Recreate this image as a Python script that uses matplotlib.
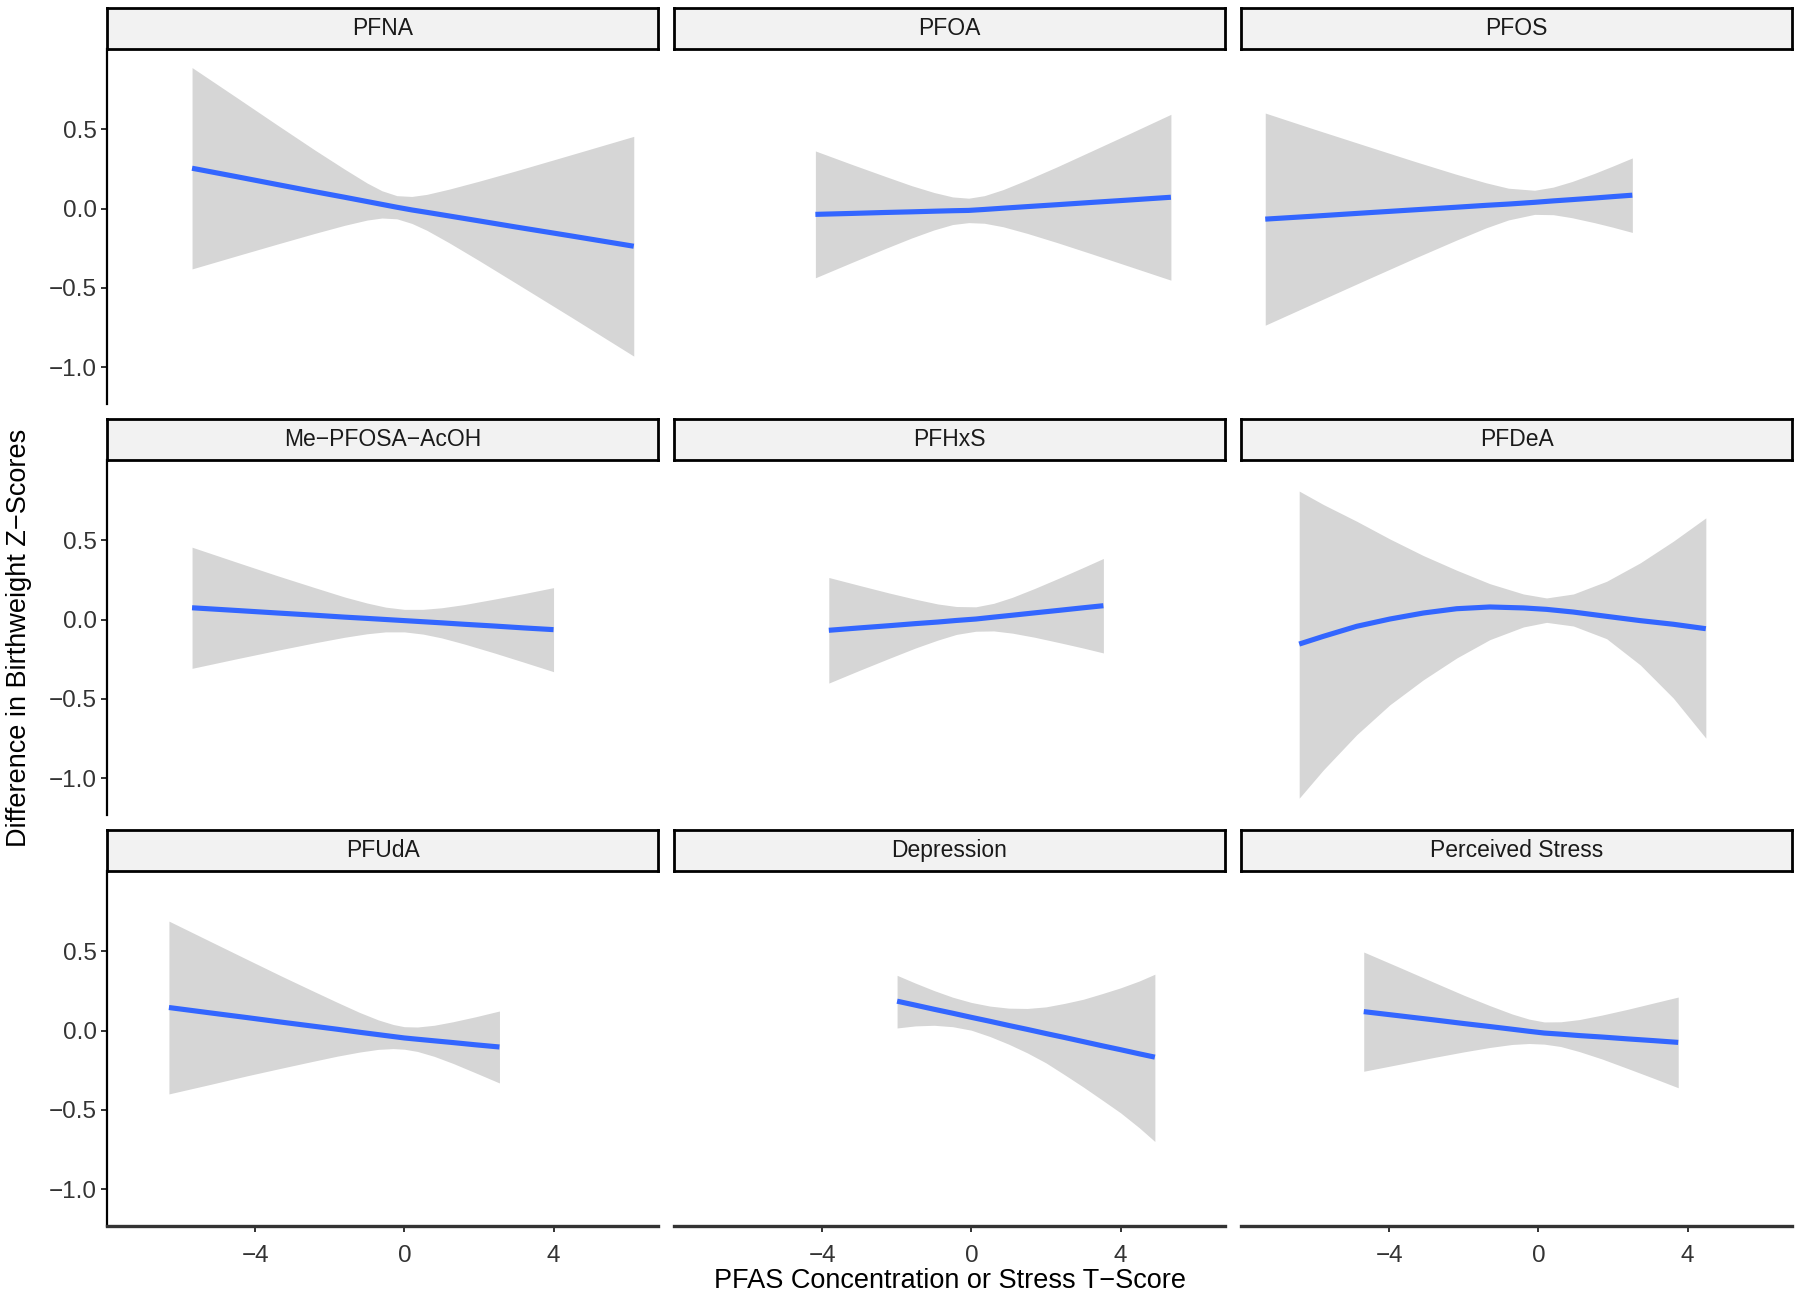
import matplotlib.pyplot as plt
import numpy as np

plt.rcParams["font.family"] = ["Liberation Sans", "DejaVu Sans"]

# facet titles, in reading order
panels = ["PFNA", "PFOA", "PFOS",
          "Me\u2212PFOSA\u2212AcOH", "PFHxS", "PFDeA",
          "PFUdA", "Depression", "Perceived Stress"]

# smooth fit (fit) and half width of the grey band (hw)
x_pfna = [-5.69, -4.5, -3.4, -2.4, -1.6, -1.0, -0.6, -0.2, 0.2, 0.6, 1.2, 2.0, 3.0, 4.5, 6.15]
fit_pfna = [0.255, 0.202, 0.152, 0.107, 0.072, 0.045, 0.027, 0.009, -0.008, -0.023, -0.046, -0.077, -0.116, -0.173, -0.237]
hw_pfna = [0.635, 0.500, 0.375, 0.263, 0.177, 0.117, 0.086, 0.073, 0.085, 0.113, 0.169, 0.250, 0.355, 0.515, 0.693]

x_pfoa = [-4.18, -3.2, -2.3, -1.6, -1.0, -0.5, -0.07, 0.35, 0.85, 1.5, 2.3, 3.2, 4.2, 5.35]
fit_pfoa = [-0.036, -0.030, -0.024, -0.020, -0.016, -0.013, -0.011, -0.005, 0.003, 0.013, 0.025, 0.039, 0.054, 0.072]
hw_pfoa = [0.400, 0.309, 0.227, 0.165, 0.118, 0.087, 0.077, 0.087, 0.117, 0.169, 0.239, 0.322, 0.415, 0.523]

x_pfos = [-7.32, -6.0, -4.6, -3.3, -2.2, -1.4, -0.8, -0.1, 0.4, 0.9, 1.5, 2.0, 2.52]
fit_pfos = [-0.066, -0.047, -0.026, -0.007, 0.009, 0.021, 0.029, 0.040, 0.049, 0.057, 0.067, 0.076, 0.085]
hw_pfos = [0.669, 0.548, 0.421, 0.304, 0.208, 0.142, 0.100, 0.076, 0.087, 0.114, 0.155, 0.193, 0.235]

x_mepfosa = [-5.69, -4.5, -3.4, -2.4, -1.6, -1.0, -0.5, 0.0, 0.5, 1.0, 1.6, 2.4, 3.2, 4.0]
fit_mepfosa = [0.075, 0.058, 0.042, 0.028, 0.016, 0.008, 0.001, -0.006, -0.013, -0.020, -0.029, -0.040, -0.052, -0.063]
hw_mepfosa = [0.382, 0.305, 0.235, 0.174, 0.127, 0.097, 0.078, 0.071, 0.078, 0.095, 0.124, 0.169, 0.216, 0.265]

x_pfhxs = [-3.82, -3.0, -2.2, -1.5, -0.9, -0.4, 0.12, 0.6, 1.1, 1.7, 2.4, 3.0, 3.54]
fit_pfhxs = [-0.067, -0.052, -0.038, -0.025, -0.015, -0.005, 0.004, 0.016, 0.028, 0.043, 0.060, 0.075, 0.088]
hw_pfhxs = [0.333, 0.268, 0.206, 0.154, 0.114, 0.088, 0.077, 0.087, 0.113, 0.154, 0.207, 0.254, 0.298]

# PFDeA and Depression: band edges read directly
x_pfdea = [-6.41, -5.76, -4.87, -3.98, -3.08, -2.19, -1.30, -0.40, 0.22, 0.94, 1.83, 2.73, 3.62, 4.49]
fit_pfdea = [-0.154, -0.105, -0.042, 0.004, 0.042, 0.069, 0.080, 0.074, 0.065, 0.048, 0.021, -0.006, -0.029, -0.057]
lo_pfdea = [-1.126, -0.947, -0.726, -0.537, -0.379, -0.242, -0.126, -0.046, -0.017, -0.040, -0.120, -0.285, -0.495, -0.747]
hi_pfdea = [0.811, 0.726, 0.621, 0.509, 0.404, 0.312, 0.227, 0.162, 0.137, 0.162, 0.242, 0.358, 0.495, 0.642]

x_pfuda = [-6.31, -5.2, -4.2, -3.3, -2.5, -1.8, -1.2, -0.7, -0.3, 0.0, 0.35, 0.8, 1.3, 1.9, 2.55]
fit_pfuda = [0.146, 0.112, 0.082, 0.054, 0.030, 0.009, -0.010, -0.025, -0.037, -0.046, -0.054, -0.064, -0.075, -0.089, -0.103]
hw_pfuda = [0.545, 0.451, 0.366, 0.291, 0.226, 0.170, 0.125, 0.093, 0.076, 0.071, 0.077, 0.098, 0.131, 0.176, 0.227]

x_depr = [-1.99, -1.5, -1.0, -0.5, 0.0, 0.5, 1.0, 1.5, 2.0, 2.5, 3.0, 3.5, 4.0, 4.5, 4.92]
fit_depr = [0.186, 0.161, 0.135, 0.110, 0.084, 0.059, 0.033, 0.008, -0.018, -0.043, -0.069, -0.095, -0.120, -0.146, -0.167]
lo_depr = [0.017, 0.030, 0.034, 0.025, 0.003, -0.037, -0.085, -0.140, -0.203, -0.278, -0.355, -0.436, -0.518, -0.612, -0.699]
hi_depr = [0.349, 0.300, 0.253, 0.211, 0.178, 0.155, 0.142, 0.140, 0.150, 0.172, 0.198, 0.233, 0.270, 0.313, 0.356]

x_stress = [-4.68, -3.7, -2.8, -2.0, -1.3, -0.7, -0.25, 0.16, 0.6, 1.1, 1.7, 2.4, 3.1, 3.75]
fit_stress = [0.120, 0.093, 0.068, 0.045, 0.026, 0.009, -0.004, -0.015, -0.022, -0.031, -0.040, -0.052, -0.063, -0.074]
hw_stress = [0.376, 0.304, 0.237, 0.179, 0.132, 0.096, 0.077, 0.070, 0.078, 0.101, 0.138, 0.187, 0.238, 0.286]

xs = [x_pfna, x_pfoa, x_pfos, x_mepfosa, x_pfhxs, x_pfdea, x_pfuda, x_depr, x_stress]
fits = [fit_pfna, fit_pfoa, fit_pfos, fit_mepfosa, fit_pfhxs, fit_pfdea, fit_pfuda, fit_depr, fit_stress]
half = {0: hw_pfna, 1: hw_pfoa, 2: hw_pfos, 3: hw_mepfosa, 4: hw_pfhxs, 6: hw_pfuda, 8: hw_stress}
edges = {5: (lo_pfdea, hi_pfdea), 7: (lo_depr, hi_depr)}

x_ticks = [-4, 0, 4]
x_ticklabels = ["\u22124", "0", "4"]
y_ticks = [-1.0, -0.5, 0.0, 0.5]
y_ticklabels = ["\u22121.0", "\u22120.5", "0.0", "0.5"]

W, H = 1800, 1298
fig = plt.figure(figsize=(W / 100, H / 100), dpi=100)

col_left = [107, 674, 1241]
col_w = 551
row_top = [49, 460, 871]
row_h = 355
strip_h = 41

for i in range(9):
    r, c = divmod(i, 3)
    x = np.array(xs[i])
    fit = np.array(fits[i])
    if i in half:
        lo = fit - np.array(half[i])
        hi = fit + np.array(half[i])
    else:
        lo, hi = edges[i]

    ax = fig.add_axes([col_left[c] / W, 1 - (row_top[r] + row_h) / H, col_w / W, row_h / H])
    ax.fill_between(x, lo, hi, color="#D6D6D6", lw=0)
    ax.plot(x, fit, color="#3366FF", lw=3.7, solid_capstyle="butt", solid_joinstyle="round")
    ax.set_xlim(-7.97, 6.8)
    ax.set_ylim(-1.232, 1.007)

    for s in ax.spines.values():
        s.set_visible(False)
    ax.tick_params(colors="#333333", labelcolor="#333333", length=4.5, width=1.4,
                   labelsize=17.5)
    ax.tick_params(axis="y", pad=3)
    ax.tick_params(axis="x", pad=9)

    if c == 0:
        ax.spines["left"].set_visible(True)
        ax.spines["left"].set_color("black")
        ax.spines["left"].set_linewidth(1.6)
        ax.set_yticks(y_ticks)
        ax.set_yticklabels(y_ticklabels)
    else:
        ax.set_yticks([])

    if r == 2:
        ax.spines["bottom"].set_visible(True)
        ax.spines["bottom"].set_color("#333333")
        ax.spines["bottom"].set_linewidth(2.4)
        ax.set_xticks(x_ticks)
        ax.set_xticklabels(x_ticklabels)
    else:
        ax.set_xticks([])

    # facet strip
    sax = fig.add_axes([col_left[c] / W, 1 - row_top[r] / H, col_w / W, strip_h / H])
    sax.set_facecolor("#F2F2F2")
    sax.set_xticks([])
    sax.set_yticks([])
    for s in sax.spines.values():
        s.set_color("black")
        s.set_linewidth(2.0)
    sax.text(0.5, 0.5, panels[i], ha="center", va="center", fontsize=16.5,
             color="#1A1A1A", transform=sax.transAxes)

fig.text(950 / W, 1 - 1281 / H, "PFAS Concentration or Stress T\u2212Score",
         ha="center", va="center", fontsize=19.5)
fig.text(19 / W, 1 - 638 / H, "Difference in Birthweight Z\u2212Scores",
         ha="center", va="center", rotation=90, fontsize=19.5)

fig.savefig("out.png", dpi=100, facecolor="white")
